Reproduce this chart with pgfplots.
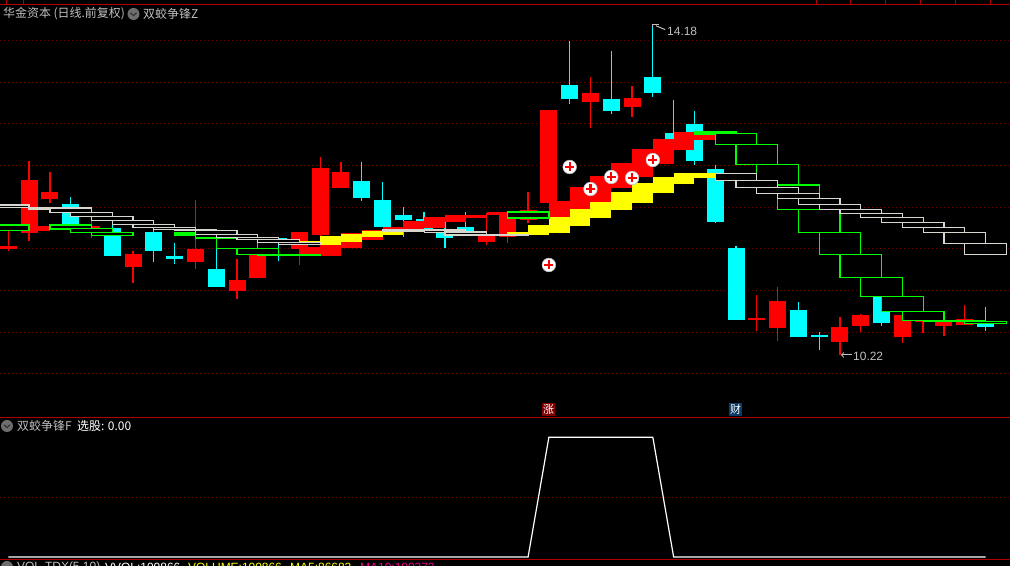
\documentclass[border=0pt]{standalone}
\usepackage{fontspec}
\usepackage{pgfplots}
\usepackage{pgfplotstable}
\pgfplotsset{compat=1.18}
\setmainfont{Liberation Sans}
\newfontfamily\cjk{Noto Sans CJK SC}
\definecolor{cyanbar}{RGB}{0,255,255}
\definecolor{redbar}{RGB}{255,0,0}
\definecolor{gridred}{RGB}{105,0,0}
\definecolor{frame}{RGB}{176,0,0}
\definecolor{labgray}{RGB}{192,192,192}
\definecolor{boxgreen}{RGB}{0,255,0}
\definecolor{boxwhite}{RGB}{214,214,206}
\definecolor{yellowband}{RGB}{255,255,0}
\definecolor{icon}{RGB}{110,110,110}
% day index, body top, body bottom, high, low
\pgfplotstableread{
i top bot hi lo
0 11.528 11.492 11.792 11.468
1 12.32 11.684 12.548 11.588
2 12.176 12.092 12.416 12.044
4 11.768 11.744 11.864 11.624
6 11.432 11.276 11.468 11.084
9 11.492 11.336 12.08 11.252
11 11.12 10.988 11.372 10.892
12 11.416 11.144 11.6 11.144
14 11.696 11.492 11.696 11.3
15 12.464 11.66 12.596 11.624
16 12.416 12.224 12.536 12.224
23 11.696 11.576 11.924 11.54
24 11.936 11.636 11.936 11.564
25 11.96 11.84 12.176 11.804
26 13.16 12.044 13.16 12.044
28 13.364 13.256 13.556 12.944
30 13.304 13.196 13.448 13.076
36 10.664 10.64 10.94 10.508
37 10.868 10.544 11.036 10.388
40 10.556 10.376 10.676 10.22
41 10.7 10.568 10.712 10.496
43 10.7 10.436 10.736 10.364
44 10.64 10.616 10.772 10.484
45 10.628 10.568 10.7 10.448
46 10.652 10.58 10.82 10.58
}\redcandles
\pgfplotstableread{
i top bot hi lo
3 12.032 11.78 12.116 11.78
5 11.744 11.408 11.84 11.408
7 11.696 11.468 11.8 11.336
8 11.408 11.372 11.564 11.312
10 11.252 11.036 11.504 11.036
13 11.624 11.588 11.624 11.348
17 12.308 12.104 12.536 12.068
18 12.08 11.756 12.296 11.756
19 11.9 11.84 12.0 11.636
20 11.852 11.72 11.936 11.696
21 11.684 11.624 11.816 11.504
22 11.756 11.708 11.936 11.684
27 13.46 13.292 13.988 13.232
29 13.292 13.148 13.868 13.112
31 13.556 13.364 14.18 13.316
32 12.884 12.68 13.28 12.68
33 12.992 12.548 13.148 12.5
34 12.452 11.816 12.5 11.804
35 11.504 10.64 11.528 10.64
38 10.76 10.436 10.856 10.436
39 10.46 10.436 10.496 10.28
42 10.916 10.604 10.916 10.568
47 10.592 10.556 10.796 10.508
}\cyancandles
\newcommand\Hollow[4]{\addplot[forget plot,draw=#1,fill=black,line width=1.25bp] coordinates {(\the\numexpr#2-1\relax,#3)(\the\numexpr#2+1\relax,#3)(\the\numexpr#2+1\relax,#4)(\the\numexpr#2-1\relax,#4)} -- cycle;}
\newcommand\Solid[4]{\addplot[forget plot,draw=none,fill=#1] coordinates {(\the\numexpr#2-1\relax,#3)(\the\numexpr#2+1\relax,#3)(\the\numexpr#2+1\relax,#4)(\the\numexpr#2-1\relax,#4)} -- cycle;}
\newcommand\Txt[4]{\node[anchor=west,inner sep=0pt,text=#1,font=\fontsize{12}{12}\selectfont] at (#2,#3) {#4};}
\newcommand\Chev[2]{\fill[icon] (#1,#2) circle (6);\draw[black!80,line width=1.2bp] (#1-3,#2+1.2)--(#1,#2-1.6)--(#1+3,#2+1.2);}
\pgfplotsset{panel/.style={scale only axis,width=1010bp,anchor=north west,
  xmin=-0.399,xmax=48.18,xtick=\empty,yticklabels={},
  axis line style={draw=none},tick style={draw=none},ymajorgrids,
  grid style={gridred,line width=1bp,dash pattern=on 1bp off 3bp}}}
\begin{document}
\begin{tikzpicture}[x=1bp,y=1bp]
\path[use as bounding box] (0,0) rectangle (1010,566);
\clip (0,0) rectangle (1010,566);
\fill[black] (0,0) rectangle (1010,566);
\begin{axis}[panel,at={(0bp,566bp)},height=417.5bp,ymin=9.47,ymax=14.48,
  ytick={13.994,13.494,12.994,12.494,11.994,11.494,10.994,10.494,9.994}]
% wicks and bodies
\addplot[forget plot,draw=redbar,line width=1.3bp,quiver={u=0,v=\thisrow{lo}-\thisrow{hi}}] table[x=i,y=hi] {\redcandles};
\addplot[forget plot,draw=cyanbar,line width=1.3bp,quiver={u=0,v=\thisrow{lo}-\thisrow{hi}}] table[x=i,y=hi] {\cyancandles};
\addplot[forget plot,draw=redbar,line width=17bp,quiver={u=0,v=\thisrow{bot}-\thisrow{top}}] table[x=i,y=top] {\redcandles};
\addplot[forget plot,draw=cyanbar,line width=17bp,quiver={u=0,v=\thisrow{bot}-\thisrow{top}}] table[x=i,y=top] {\cyancandles};
% red band
\Solid{redbar}{1}{11.768}{11.708}
\Solid{redbar}{15}{11.516}{11.408}
\Solid{redbar}{16}{11.6}{11.504}
\Solid{redbar}{17}{11.684}{11.6}
\Solid{redbar}{18}{11.72}{11.696}
\Solid{redbar}{19}{11.756}{11.696}
\Solid{redbar}{20}{11.828}{11.744}
\Solid{redbar}{21}{11.876}{11.816}
\Solid{redbar}{22}{11.9}{11.864}
\Solid{redbar}{23}{11.9}{11.864}
\Solid{redbar}{24}{11.936}{11.9}
\Solid{redbar}{27}{12.068}{11.876}
\Solid{redbar}{28}{12.236}{11.972}
\Solid{redbar}{29}{12.368}{12.224}
\Solid{redbar}{30}{12.524}{12.356}
\Solid{redbar}{31}{12.692}{12.512}
\Solid{redbar}{32}{12.812}{12.68}
\Solid{redbar}{33}{12.896}{12.8}
% yellow band
\Solid{yellowband}{15}{11.588}{11.54}
\Solid{yellowband}{16}{11.648}{11.576}
\Solid{yellowband}{17}{11.672}{11.636}
\Solid{yellowband}{18}{11.708}{11.66}
\Solid{yellowband}{25}{11.696}{11.66}
\Solid{yellowband}{26}{11.78}{11.684}
\Solid{yellowband}{27}{11.876}{11.768}
\Solid{yellowband}{28}{11.972}{11.864}
\Solid{yellowband}{29}{12.056}{11.96}
\Solid{yellowband}{30}{12.176}{12.044}
\Solid{yellowband}{31}{12.284}{12.164}
\Solid{yellowband}{32}{12.356}{12.276}
\Solid{yellowband}{33}{12.404}{12.344}
% green outlined band
\Hollow{boxgreen}{0}{11.78}{11.712}
\Hollow{boxgreen}{3}{11.78}{11.732}
\Hollow{boxgreen}{4}{11.74}{11.688}
\Hollow{boxgreen}{5}{11.692}{11.652}
\Hollow{boxgreen}{9}{11.684}{11.66}
\Hollow{boxgreen}{10}{11.672}{11.624}
\Hollow{boxgreen}{11}{11.624}{11.5}
\Hollow{boxgreen}{12}{11.5}{11.424}
\Hollow{boxgreen}{13}{11.428}{11.412}
\Hollow{boxgreen}{14}{11.42}{11.412}
\Hollow{boxgreen}{25}{11.936}{11.864}
\Hollow{boxgreen}{34}{12.896}{12.872}
\Hollow{boxgreen}{35}{12.88}{12.748}
\Hollow{boxgreen}{36}{12.748}{12.508}
\Hollow{boxgreen}{37}{12.508}{12.26}
\Hollow{boxgreen}{38}{12.26}{11.968}
\Hollow{boxgreen}{39}{11.968}{11.688}
\Hollow{boxgreen}{40}{11.688}{11.428}
\Hollow{boxgreen}{41}{11.428}{11.152}
\Hollow{boxgreen}{42}{11.152}{10.92}
\Hollow{boxgreen}{43}{10.92}{10.74}
\Hollow{boxgreen}{44}{10.74}{10.632}
\Hollow{boxgreen}{45}{10.632}{10.62}
\Hollow{boxgreen}{46}{10.634}{10.622}
\Hollow{boxgreen}{47}{10.624}{10.596}
% white outlined band
\Hollow{boxwhite}{0}{12.02}{11.988}
\Hollow{boxwhite}{2}{11.988}{11.972}
\Hollow{boxwhite}{3}{11.984}{11.929}
\Hollow{boxwhite}{4}{11.932}{11.884}
\Hollow{boxwhite}{5}{11.884}{11.836}
\Hollow{boxwhite}{6}{11.836}{11.788}
\Hollow{boxwhite}{7}{11.788}{11.748}
\Hollow{boxwhite}{8}{11.748}{11.724}
\Hollow{boxwhite}{9}{11.728}{11.712}
\Hollow{boxwhite}{10}{11.716}{11.668}
\Hollow{boxwhite}{11}{11.668}{11.632}
\Hollow{boxwhite}{12}{11.632}{11.608}
\Hollow{boxwhite}{13}{11.608}{11.572}
\Hollow{boxwhite}{14}{11.572}{11.548}
\Hollow{boxwhite}{19}{11.72}{11.7}
\Hollow{boxwhite}{21}{11.72}{11.688}
\Hollow{boxwhite}{22}{11.696}{11.66}
\Hollow{boxwhite}{23}{11.668}{11.652}
\Hollow{boxwhite}{24}{11.668}{11.652}
\Hollow{boxwhite}{35}{12.4}{12.316}
\Hollow{boxwhite}{36}{12.316}{12.232}
\Hollow{boxwhite}{37}{12.232}{12.16}
\Hollow{boxwhite}{38}{12.16}{12.1}
\Hollow{boxwhite}{39}{12.1}{12.028}
\Hollow{boxwhite}{40}{12.028}{11.968}
\Hollow{boxwhite}{41}{11.968}{11.92}
\Hollow{boxwhite}{42}{11.92}{11.872}
\Hollow{boxwhite}{43}{11.872}{11.812}
\Hollow{boxwhite}{44}{11.812}{11.752}
\Hollow{boxwhite}{45}{11.752}{11.692}
\Hollow{boxwhite}{46}{11.692}{11.56}
\Hollow{boxwhite}{47}{11.56}{11.428}
\addplot[forget plot,fill=black,draw=none] coordinates {(23.02,11.9)(23.6,11.9)(23.6,11.672)(23.02,11.672)} -- cycle;
% signal marks
\addplot[forget plot,only marks,mark=*,mark size=6.8bp,mark options={fill=white,draw=black!25,line width=0.6bp}] coordinates {(26,11.3)(27,12.476)(28,12.212)(29,12.356)(30,12.344)(31,12.56)};
\addplot[forget plot,only marks,mark=+,mark size=4.5bp,mark options={draw=redbar,line width=2.2bp}] coordinates {(26,11.3)(27,12.476)(28,12.212)(29,12.356)(30,12.344)(31,12.56)};
% high and low flags
\addplot[forget plot,labgray,line width=1bp] coordinates {(31.3,14.18)(31,14.18)(31,14.15)};
\addplot[forget plot,labgray,line width=1bp] coordinates {(31.15,14.17)(31.59,14.125)};
\addplot[forget plot,labgray,line width=1bp,<-] coordinates {(40.05,10.22)(40.6,10.22)};
\end{axis}
\begin{axis}[panel,at={(0bp,148.5bp)},height=142bp,ymin=-0.021,ymax=1.165,ytick={0.5}]
\addplot[forget plot,white,line width=1.2bp] coordinates {(0,0)(1,0)(2,0)(3,0)(4,0)(5,0)(6,0)(7,0)(8,0)(9,0)(10,0)(11,0)(12,0)(13,0)(14,0)(15,0)(16,0)(17,0)(18,0)(19,0)(20,0)(21,0)(22,0)(23,0)(24,0)(25,0)(26,1)(27,1)(28,1)(29,1)(30,1)(31,1)(32,0)(33,0)(34,0)(35,0)(36,0)(37,0)(38,0)(39,0)(40,0)(41,0)(42,0)(43,0)(44,0)(45,0)(46,0)(47,0)};
\end{axis}
% frame
\draw[frame,line width=1bp] (0,561.5)--(1010,561.5) (0,148.5)--(1010,148.5) (0,6.5)--(1010,6.5);
\foreach \x in {6.5,23.5,816.5,850.5,885.5,920.5,955.5,990.5} \draw[frame,line width=1bp] (\x,566)--(\x,561.5);
% labels
\Txt{labgray}{3}{552}{\cjk 华金资本 (日线.前复权)}
\Chev{133.5}{552}
\Txt{labgray}{143}{552}{\cjk 双蛟争锋Z}
\Txt{labgray}{667}{535}{14.18}
\Txt{labgray}{853}{210}{10.22}
\Chev{7}{140}
\Txt{labgray}{17}{140}{\cjk 双蛟争锋F}
\Txt{white}{77}{140}{\cjk 选股: 0.00}
\Chev{7}{-1}
\Txt{labgray}{17}{-1.5}{VOL-TDX(5,10)}
\Txt{white}{105}{-1.5}{VVOL:100866}
\Txt{yellowband}{188}{-1.5}{VOLUME:100866}
\Txt{yellowband}{290}{-1.5}{MA5:86682}
\Txt{magenta}{360}{-1.5}{MA10:100372}
\node[fill={rgb,255:red,128;green,0;blue,0},text=white,minimum size=13bp,inner sep=0pt,font=\cjk\fontsize{11}{11}\selectfont] at (548.5,156.5) {涨};
\node[fill={rgb,255:red,11;green,58;blue,102},text=white,minimum size=13bp,inner sep=0pt,font=\cjk\fontsize{11}{11}\selectfont] at (735.5,156.5) {财};
\end{tikzpicture}
\end{document}
